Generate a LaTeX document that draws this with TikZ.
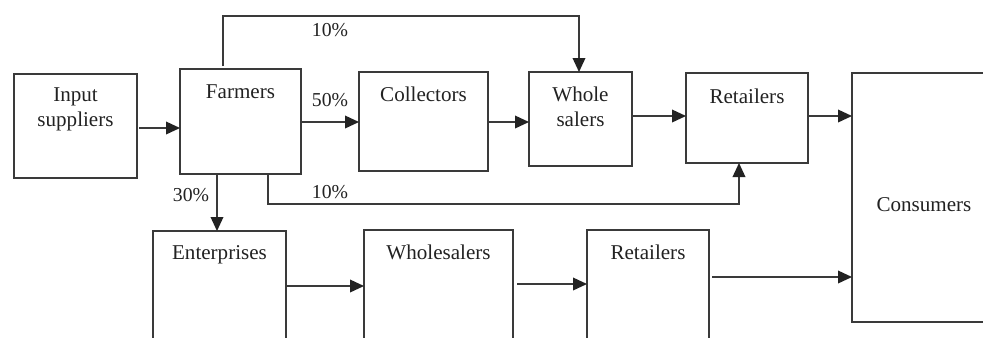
\documentclass[tikz,border=0pt]{standalone}
\usepackage{fontspec}
\setmainfont{Liberation Serif}
\usetikzlibrary{arrows.meta}
\definecolor{ln}{HTML}{3A3A3A}
\definecolor{tx}{HTML}{222222}
\tikzset{
  box/.style={draw=ln, line width=1.1pt, inner sep=0pt, outer sep=0pt, fill=none},
  txt/.style={text=tx, inner sep=0pt, align=center, font=\fontsize{15.8}{18.8}\selectfont},
  pct/.style={text=tx, inner sep=0pt, font=\fontsize{14.8}{17}\selectfont},
  arr/.style={draw=ln, line width=1.1pt, -{Triangle[length=10.5pt,width=9.5pt,color=tx]}},
  ln/.style={draw=ln, line width=1.1pt}
}
\begin{document}
\begin{tikzpicture}[x=0.75pt,y=-0.75pt]
\useasboundingbox (0,0) rectangle (983,337);
\clip (0,0) rectangle (983,337);
% boxes
\node[box, minimum width=92.25pt, minimum height=78pt] (inp) at (75.5,126) {};
\node[box, minimum width=90.75pt, minimum height=78.75pt] (farm) at (240.5,121.5) {};
\node[box, minimum width=96.75pt, minimum height=74.25pt] (coll) at (423.5,121.5) {};
\node[box, minimum width=77.25pt, minimum height=70.5pt] (whole) at (580.5,119) {};
\node[box, minimum width=91.5pt, minimum height=67.5pt] (ret1) at (747,118) {};
\node[box, minimum width=108pt, minimum height=186.75pt] (cons) at (924,197.5) {};
\node[box, minimum width=99.75pt, minimum height=96.75pt] (ent) at (219.5,295.5) {};
\node[box, minimum width=111.75pt, minimum height=97.5pt] (whs) at (438.5,295) {};
\node[box, minimum width=91.5pt, minimum height=97.5pt] (ret2) at (648,295) {};
% texts
\node[txt] (inpT) at (75.5,109.5) {Input\\suppliers};
\node[txt] (farmT) at (240.5,92) {Farmers};
\node[txt] (collT) at (423.5,94) {Collectors};
\node[txt] (wholeT) at (580.5,106.5) {Whole\\salers};
\node[txt] (ret1T) at (747,96) {Retailers};
\node[txt] (consT) at (924,205) {Consumers};
\node[txt] (entT) at (219.5,255) {Enterprises};
\node[txt] (whsT) at (438.5,252) {Wholesalers};
\node[txt] (ret2T) at (648,252) {Retailers};
% percentages
\node[pct] (p10a) at (330,30) {10\%};
\node[pct] (p50) at (330,100) {50\%};
\node[pct] (p10b) at (330,192) {10\%};
\node[pct] (p30) at (191,195) {30\%};
% straight arrows
\draw[arr] ([xshift=1.5pt]inp.east |- 0,128) -- (farm.west |- 0,128);
\draw[arr] (farm.east |- 0,122) -- (coll.west |- 0,122);
\draw[arr] (coll.east |- 0,122) -- (whole.west |- 0,122);
\draw[arr] (whole.east |- 0,116) -- (ret1.west |- 0,116);
\draw[arr] (ret1.east |- 0,116) -- (cons.west |- 0,116);
\draw[arr] (ent.east |- 0,286) -- (whs.west |- 0,286);
\draw[arr] ([xshift=3pt]whs.east |- 0,284) -- (ret2.west |- 0,284);
\draw[arr] ([xshift=2.25pt]ret2.east |- 0,277) -- (cons.west |- 0,277);
% bent arrows
\draw[arr] ([yshift=2.25pt]farm.north -| 223,0) -- (223,16) -- (579,16) -- (whole.north -| 579,0);
\draw[arr] (farm.south -| 268,0) -- (268,204) -- (739,204) -- (ret1.south -| 739,0);
\draw[arr] (farm.south -| 217,0) -- (ent.north -| 217,0);
\end{tikzpicture}
\end{document}
